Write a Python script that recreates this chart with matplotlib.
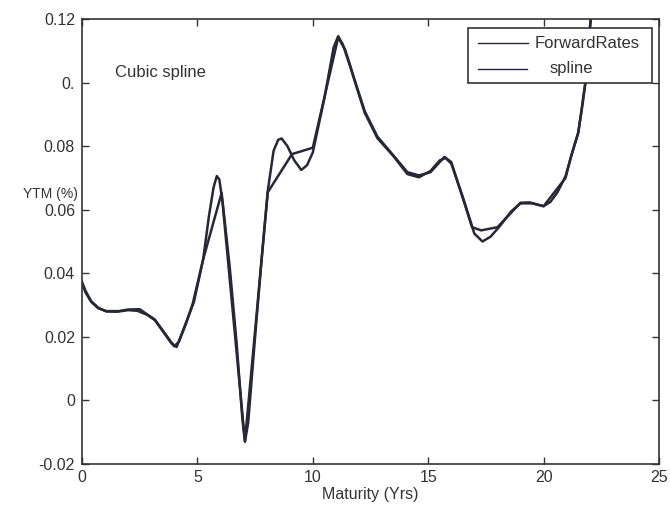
import matplotlib
matplotlib.use("Agg")
import matplotlib.pyplot as plt
from matplotlib.patches import Rectangle
from matplotlib.lines import Line2D

plt.rcParams['font.family'] = ['Liberation Sans', 'DejaVu Sans']

# ForwardRates (piecewise) curve
fwd_x = [0.0, 0.15, 0.4, 0.7, 1.05, 1.6, 2.0, 2.5, 2.8, 3.15, 3.5, 3.9, 4.1, 4.85,
         5.25, 6.05, 7.06, 8.05, 9.1, 10.0, 11.1, 11.4, 11.85, 12.25, 12.8, 13.5,
         14.1, 14.6, 15.1, 15.7, 16.0, 16.9, 17.3, 18.0, 19.0, 19.4, 20.0, 20.95,
         21.2, 21.5, 21.65, 21.8, 22.1]
fwd_y = [0.037, 0.034, 0.031, 0.029, 0.0281, 0.0281, 0.0286, 0.0287, 0.0272, 0.0255,
         0.0220, 0.0180, 0.0168, 0.0310, 0.0444, 0.0653, -0.0128, 0.0655, 0.0775,
         0.0795, 0.1142, 0.1104, 0.1000, 0.0910, 0.0830, 0.0770, 0.0718, 0.0708,
         0.0718, 0.0766, 0.0750, 0.0545, 0.0535, 0.0545, 0.0622, 0.0623, 0.0611,
         0.0700, 0.0770, 0.0842, 0.0915, 0.0994, 0.125]

# spline curve
spl_x = [0.0, 0.15, 0.4, 0.7, 1.05, 1.5, 2.0, 2.4, 2.8, 3.15, 3.5, 3.85, 4.0, 4.2,
         4.5, 4.8, 5.25, 5.5, 5.7, 5.84, 5.95, 6.1, 6.4, 6.7, 6.95, 7.06, 7.2, 7.5,
         7.8, 8.05, 8.3, 8.5, 8.65, 8.9, 9.2, 9.5, 9.75, 10.0, 10.5, 10.9, 11.1,
         11.3, 11.6, 11.9, 12.25, 12.8, 13.5, 14.1, 14.6, 15.1, 15.5, 15.75, 16.0,
         16.5, 17.0, 17.35, 17.7, 18.1, 18.6, 19.0, 19.5, 20.0, 20.3, 20.6, 20.95,
         21.2, 21.5, 21.65, 21.8, 22.1]
spl_y = [0.0372, 0.0345, 0.0312, 0.0292, 0.0280, 0.0279, 0.0284, 0.0282, 0.0270,
         0.0253, 0.0218, 0.0182, 0.0170, 0.0185, 0.0240, 0.0305, 0.0444, 0.0580,
         0.0670, 0.0706, 0.0695, 0.0620, 0.0420, 0.0180, -0.0060, -0.0130, -0.0070,
         0.0200, 0.0460, 0.0660, 0.0785, 0.0820, 0.0824, 0.0800, 0.0755, 0.0725,
         0.0740, 0.0780, 0.0950, 0.1110, 0.1146, 0.1120, 0.1055, 0.0985, 0.0905,
         0.0825, 0.0768, 0.0712, 0.0702, 0.0722, 0.0755, 0.0763, 0.0745, 0.0640,
         0.0525, 0.0500, 0.0515, 0.0548, 0.0595, 0.0620, 0.0620, 0.0611, 0.0625,
         0.0655, 0.0705, 0.0770, 0.0842, 0.0915, 0.0994, 0.125]

x_ticks = [0, 5, 10, 15, 20, 25]
y_ticks = [-0.02, 0, 0.02, 0.04, 0.06, 0.08, 0.10, 0.12]
y_tick_labels = ['-0.02', '0', '0.02', '0.04', '0.06', '0.08', '0.', '0.12']
series_labels = ['ForwardRates', 'spline']

line_color = '#262838'
text_color = '#333333'

fig = plt.figure(figsize=(6.7, 5.14), dpi=100)
ax = fig.add_axes([82/670, 1-464/514, (659-82)/670, (464-19)/514])

ax.plot(fwd_x, fwd_y, color=line_color, lw=1.8, solid_joinstyle='round')
ax.plot(spl_x, spl_y, color=line_color, lw=1.8, solid_joinstyle='round')

ax.set_xlim(0, 25)
ax.set_ylim(-0.02, 0.12)
ax.set_xticks(x_ticks)
ax.set_xticklabels([str(t) for t in x_ticks])
ax.set_yticks(y_ticks)
ax.set_yticklabels(y_tick_labels)
ax.tick_params(direction='in', length=5, width=1, top=True, right=True,
               labelsize=11.5, colors='#333333', labelcolor=text_color)
ax.tick_params(axis='x', pad=4)
ax.tick_params(axis='y', pad=5)
for s in ax.spines.values():
    s.set_color('#333333')
    s.set_linewidth(1.2)

ax.set_xlabel('Maturity (Yrs)', fontsize=11.5, color=text_color, labelpad=2)
fig.text(78/670, 1-194/514, 'YTM (%)', ha='right', va='center',
         fontsize=10, color=text_color)

ax.text(1.43, 0.1031, 'Cubic spline', fontsize=12, color=text_color,
        ha='left', va='center')

# legend box
ax.add_patch(Rectangle((0.669, 0.856), 0.988-0.669, 0.980-0.856,
                       transform=ax.transAxes, facecolor='white',
                       edgecolor='#333333', lw=1.2, zorder=5))
ax.add_line(Line2D([0.686, 0.773], [0.946, 0.946], transform=ax.transAxes,
                   color=line_color, lw=1.0, zorder=6))
ax.add_line(Line2D([0.686, 0.771], [0.888, 0.888], transform=ax.transAxes,
                   color=line_color, lw=1.0, zorder=6))
ax.text(0.785, 0.946, series_labels[0], transform=ax.transAxes, fontsize=12,
        color=text_color, ha='left', va='center', zorder=7)
ax.text(0.811, 0.888, series_labels[1], transform=ax.transAxes, fontsize=12,
        color=text_color, ha='left', va='center', zorder=7)

fig.savefig('out.png', dpi=100, facecolor='white')
